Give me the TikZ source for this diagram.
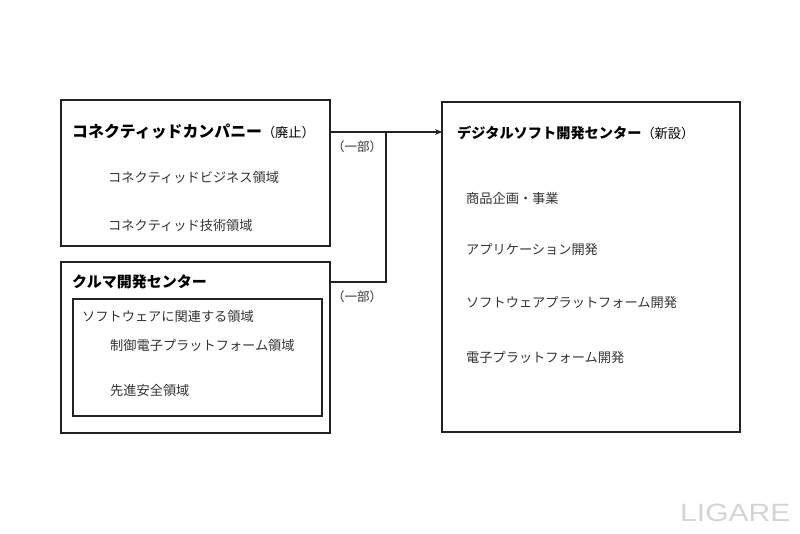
\documentclass[tikz,border=0pt]{standalone}
\usepackage{fontspec}
\setmainfont{Noto Sans CJK JP}
\newfontfamily\logofont{Liberation Sans}
\usetikzlibrary{arrows.meta}
\definecolor{linec}{HTML}{222222}
\definecolor{textc}{HTML}{333333}
\definecolor{logoc}{HTML}{D4D4D4}
\tikzset{
  box/.style={draw=linec, line width=1.4pt},
  ttl/.style={anchor=west, inner sep=0pt, text=black, font=\fontsize{15}{18}\selectfont},
  item/.style={anchor=west, inner sep=0pt, text=textc, font=\fontsize{13.2}{16}\selectfont},
  part/.style={anchor=west, inner sep=0pt, text=textc, font=\fontsize{12.5}{15}\selectfont},
  conn/.style={draw=linec, line width=1.4pt}
}
\begin{document}
\begin{tikzpicture}[x=1pt,y=-1pt]
\useasboundingbox (0,0) rectangle (800,533);
% boxes
\draw[box] (61,100) rectangle (330,246);
\coordinate (b1e) at (330,132);
\draw[box] (61,262) rectangle (330,433);
\coordinate (b2e) at (330,282);
\draw[box] (73,299) rectangle (322,416);
\draw[box] (442,102) rectangle (740,432);
\coordinate (rw) at (442,132);
\coordinate (j1) at (386,132);
\coordinate (j2) at (386,282);
% titles
\node[ttl] (t1) at (72,132) {{\bfseries\fontsize{15.9}{18}\selectfont コネクティッドカンパニー}{\fontsize{13.2}{18}\selectfont（廃止）}};
\node[item] (i11) at (108,177) {コネクティッドビジネス領域};
\node[item] (i12) at (108,225) {コネクティッド技術領域};
\node[ttl] (t2) at (72,282) {\bfseries クルマ開発センター};
\node[item] (s2) at (82,316) {ソフトウェアに関連する領域};
\node[item] (i21) at (110,345) {制御電子プラットフォーム領域};
\node[item] (i22) at (110,390) {先進安全領域};
\node[ttl] (t3) at (457,133) {{\bfseries\fontsize{14.2}{18}\selectfont デジタルソフト開発センター}{\fontsize{13.2}{18}\selectfont（新設）}};
\node[item] (r1) at (466,198) {商品企画・事業};
\node[item] (r2) at (466,250) {アプリケーション開発};
\node[item] (r3) at (466,303) {ソフトウェアプラットフォーム開発};
\node[item] (r4) at (466,358) {電子プラットフォーム開発};
% connectors
\draw[conn, -{Stealth[length=7pt,width=6pt]}] (b1e) -- (rw);
\draw[conn] (b2e) -- (j2) -- (j1);
\node[part] (p1) at (332,147) {（一部）};
\node[part] (p2) at (332,297) {（一部）};
% logo
\node[anchor=west, inner sep=0pt, text=logoc, font=\logofont\fontsize{25}{30}\selectfont, xscale=1.2] (logo) at (680,513) {LIGARE};
\end{tikzpicture}
\end{document}
